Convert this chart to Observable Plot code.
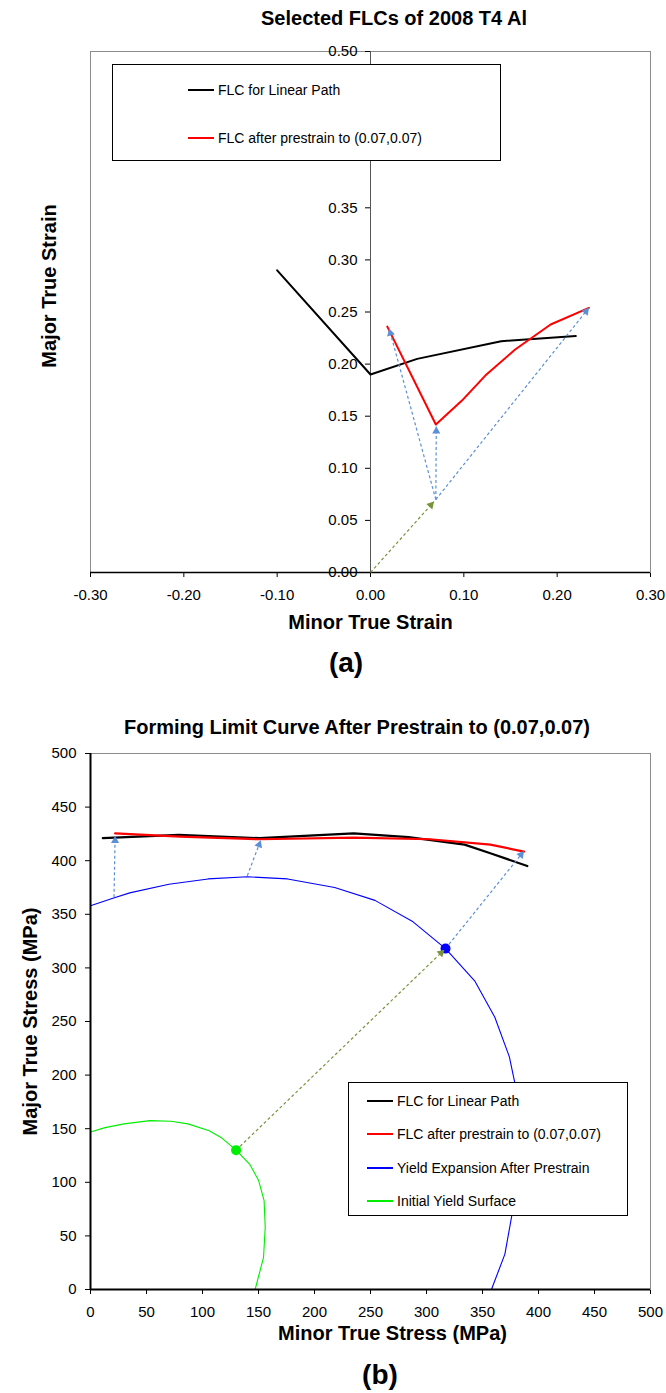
<!DOCTYPE html>
<html><head><meta charset="utf-8">
<script src="https://cdn.jsdelivr.net/npm/d3@7"></script>
<script src="https://cdn.jsdelivr.net/npm/@observablehq/plot@0.6"></script>
<style>
body{margin:0;background:#fff;}
#page{position:relative;width:666px;height:1393px;font-family:"Liberation Sans",Arial,sans-serif;color:#000;overflow:hidden;background:#fff;}
.ctr{position:absolute;transform:translate(-50%,-50%);white-space:nowrap;}
.title{font-weight:bold;font-size:20px;}
.cap{font-weight:bold;font-size:28px;}
.legend{position:absolute;background:#fff;border:1px solid #000;box-sizing:border-box;}
.lg-row{position:absolute;height:18px;display:flex;align-items:center;font-size:14px;white-space:nowrap;}
.lg-line{width:26px;margin-right:4px;}
</style></head><body><div id="page"></div>
<script>
// ---------------- Data: chart (a) strains ----------------
const topXTicks = [-0.3, -0.2, -0.1, 0, 0.1, 0.2, 0.3];
const topYTicks = [0, 0.05, 0.1, 0.15, 0.2, 0.25, 0.3, 0.35, 0.4, 0.45, 0.5];
const linearMinorA = [-0.10, 0.00, 0.05, 0.14, 0.22];
const linearMajorA = [0.290, 0.190, 0.205, 0.222, 0.227];
const prestrainMinorA = [0.018, 0.070, 0.098, 0.123, 0.155, 0.193, 0.234];
const prestrainMajorA = [0.236, 0.142, 0.165, 0.189, 0.214, 0.238, 0.254];
const arrowKindA = ["prestrain", "post", "post", "post"];
const arrowFromMinorA = [0.00, 0.07, 0.07, 0.07];
const arrowFromMajorA = [0.00, 0.07, 0.07, 0.07];
const arrowToMinorA = [0.068, 0.020, 0.0705, 0.234];
const arrowToMajorA = [0.068, 0.234, 0.140, 0.254];

// ---------------- Data: chart (b) stresses ----------------
const bottomXTicks = [0, 50, 100, 150, 200, 250, 300, 350, 400, 450, 500];
const bottomYTicks = [0, 50, 100, 150, 200, 250, 300, 350, 400, 450, 500];
const linearMinorB = [11, 79, 151, 235, 284, 334, 357, 390];
const linearMajorB = [421, 424, 421, 425.5, 422, 415, 407, 395];
const prestrainMinorB = [22, 80, 151, 235, 303, 357, 387];
const prestrainMajorB = [425.5, 422.5, 420, 421.5, 420, 415, 408.5];
const yieldExpMinorB = [0, 20, 35, 70, 105, 140, 176, 218, 254, 288, 317, 343, 361, 374, 379, 381, 380, 376, 370, 358];
const yieldExpMajorB = [358, 365, 370, 378, 383, 385, 383, 375, 363, 343, 318, 288, 254, 217, 192, 150, 105, 68, 33, 0];
const initialMinorB = [0, 13, 30, 53, 72, 87, 106, 117, 130, 142, 150, 155, 156, 154.5, 147];
const initialMajorB = [147, 151, 154.5, 157.5, 157, 154.5, 148, 141.5, 130, 117, 102, 83, 58, 30, 0];
const pointMinorB = [130, 317];
const pointMajorB = [130, 318];
const pointKindB = ["initial", "expanded"];
const arrowKindB = ["prestrain", "post", "post", "post"];
const arrowFromMinorB = [130, 21, 140, 317];
const arrowFromMajorB = [130, 366, 386, 318];
const arrowToMinorB = [316, 22, 152, 387];
const arrowToMajorB = [317, 423, 419, 409];

// ---------------- Styles ----------------
const C = {
  linear: "#000000", prestrain: "#ff0000", yieldExp: "#0000ff", initial: "#00ee00",
  arrowPre: "#77933c", arrowPost: "#5b8fd6", frame: "#8c8c8c"
};
const FONT = '"Liberation Sans", Arial, sans-serif';
const page = document.getElementById("page");

function zipXY(xs, ys) { return xs.map((x, i) => ({x, y: ys[i]})); }
function arrows(kinds, fx, fy, tx, ty) {
  return kinds.map((k, i) => ({kind: k, x1: fx[i], y1: fy[i], x2: tx[i], y2: ty[i]}));
}
// arrow heads: triangles rotated to the on-screen direction, tip at the end point
function heads(arr, kx, ky, back) {
  return arr.map(a => {
    const sdx = (a.x2 - a.x1) * kx, sdy = -(a.y2 - a.y1) * ky;
    const len = Math.hypot(sdx, sdy);
    const ux = sdx / len, uy = sdy / len;
    return {kind: a.kind, x: a.x2 - ux * back / kx, y: a.y2 + uy * back / ky,
            rotate: Math.atan2(sdx, -sdy) * 180 / Math.PI};
  });
}
const arrowColor = k => k === "prestrain" ? C.arrowPre : C.arrowPost;

function place(el, top) {
  el.style.position = "absolute"; el.style.left = "0px"; el.style.top = top + "px";
  page.appendChild(el);
}
function label(text, cls, cx, cy) {
  const d = document.createElement("div");
  d.className = "ctr " + cls; d.textContent = text;
  d.style.left = cx + "px"; d.style.top = cy + "px";
  page.appendChild(d);
}
function legend(box, rows) {
  const d = document.createElement("div");
  d.className = "legend";
  Object.assign(d.style, {left: box.left + "px", top: box.top + "px", width: box.w + "px", height: box.h + "px"});
  rows.forEach(r => {
    const row = document.createElement("div");
    row.className = "lg-row";
    row.style.left = r.x + "px"; row.style.top = (r.y - 9) + "px";
    const ln = document.createElement("div");
    ln.className = "lg-line";
    ln.style.height = r.w + "px"; ln.style.background = r.color;
    const tx = document.createElement("span"); tx.textContent = r.text;
    row.appendChild(ln); row.appendChild(tx); d.appendChild(row);
  });
  page.appendChild(d);
}

// ================= Chart (a) =================
{
  const W = 666, H = 617, mL = 90, mR = 16, mT = 21, mB = 75;
  const kx = (W - mL - mR) / 0.6, ky = (H - mT - mB) / 0.5;
  const arr = arrows(arrowKindA, arrowFromMinorA, arrowFromMajorA, arrowToMinorA, arrowToMajorA);
  const tickLen = 5 / kx;
  const svg = Plot.plot({
    width: W, height: H, marginLeft: mL, marginRight: mR, marginTop: mT, marginBottom: mB,
    style: {fontFamily: FONT, fontSize: "15px", color: "#000", background: "transparent", overflow: "visible"},
    x: {domain: [-0.3, 0.3], ticks: topXTicks, tickFormat: d => d.toFixed(2), tickSize: 5, tickPadding: 12, label: null},
    y: {domain: [0, 0.5], axis: null},
    marks: [
      Plot.frame({stroke: C.frame}),
      Plot.ruleX([0], {stroke: "#555", strokeWidth: 1}),
      Plot.ruleY(topYTicks, {y: d => d, x1: d => 0, x2: d => -tickLen, stroke: "#000"}),
      Plot.text(topYTicks, {x: d => 0, y: d => d, text: d => d.toFixed(2), textAnchor: "end", dx: -13, fontSize: 15, fill: "#000"}),
      Plot.ruleY([0], {stroke: "#000", strokeWidth: 1.5}),
      Plot.line(zipXY(linearMinorA, linearMajorA), {x: "x", y: "y", stroke: C.linear, strokeWidth: 2}),
      Plot.line(zipXY(prestrainMinorA, prestrainMajorA), {x: "x", y: "y", stroke: C.prestrain, strokeWidth: 2}),
      Plot.link(arr, {x1: "x1", y1: "y1", x2: "x2", y2: "y2", stroke: d => arrowColor(d.kind), strokeWidth: 1.2, strokeDasharray: "3,2.5"}),
      Plot.dot(heads(arr, kx, ky, 4.6), {x: "x", y: "y", rotate: "rotate", symbol: "triangle", r: 3, fill: d => arrowColor(d.kind), stroke: "none"}),
      Plot.text(["Minor True Strain"], {text: d => d, frameAnchor: "bottom", textAnchor: "middle", dy: 56, fontWeight: "bold", fontSize: 20, fill: "#000"}),
      Plot.text(["Major True Strain"], {text: d => d, frameAnchor: "left", textAnchor: "middle", dx: -41, dy: -26, rotate: -90, fontWeight: "bold", fontSize: 20, fill: "#000"})
    ]
  });
  place(svg, 30);
  label("Selected FLCs of 2008 T4 Al", "title", 394, 18);
  label("(a)", "cap", 346, 663);
  legend({left: 112, top: 64, w: 389, h: 97}, [
    {x: 75, y: 25, w: 2, color: C.linear, text: "FLC for Linear Path"},
    {x: 75, y: 73, w: 2, color: C.prestrain, text: "FLC after prestrain to (0.07,0.07)"}
  ]);
}

// ================= Chart (b) =================
{
  const W = 666, H = 614, mL = 90, mR = 16, mT = 13, mB = 65;
  const kx = (W - mL - mR) / 500, ky = (H - mT - mB) / 500;
  const arr = arrows(arrowKindB, arrowFromMinorB, arrowFromMajorB, arrowToMinorB, arrowToMajorB);
  const pts = pointKindB.map((k, i) => ({kind: k, x: pointMinorB[i], y: pointMajorB[i]}));
  const svg = Plot.plot({
    width: W, height: H, marginLeft: mL, marginRight: mR, marginTop: mT, marginBottom: mB,
    style: {fontFamily: FONT, fontSize: "15px", color: "#000", background: "transparent", overflow: "visible"},
    x: {domain: [0, 500], ticks: bottomXTicks, tickSize: 5, tickPadding: 12, label: null},
    y: {domain: [0, 500], ticks: bottomYTicks, tickSize: 5, tickPadding: 9, label: null},
    marks: [
      Plot.frame({stroke: C.frame}),
      Plot.line(zipXY(initialMinorB, initialMajorB), {x: "x", y: "y", stroke: C.initial, strokeWidth: 1.1}),
      Plot.line(zipXY(yieldExpMinorB, yieldExpMajorB), {x: "x", y: "y", stroke: C.yieldExp, strokeWidth: 1.1}),
      Plot.line(zipXY(linearMinorB, linearMajorB), {x: "x", y: "y", stroke: C.linear, strokeWidth: 2.2}),
      Plot.line(zipXY(prestrainMinorB, prestrainMajorB), {x: "x", y: "y", stroke: C.prestrain, strokeWidth: 2.2}),
      Plot.link(arr, {x1: "x1", y1: "y1", x2: "x2", y2: "y2", stroke: d => arrowColor(d.kind), strokeWidth: 1.2, strokeDasharray: "3,2.5"}),
      Plot.dot(pts, {x: "x", y: "y", r: 5, fill: d => d.kind === "initial" ? C.initial : C.yieldExp, stroke: "none"}),
      Plot.dot(heads(arr, kx, ky, 4.6), {x: "x", y: "y", rotate: "rotate", symbol: "triangle", r: 3, fill: d => arrowColor(d.kind), stroke: "none"}),
      Plot.ruleX([0], {stroke: "#000", strokeWidth: 2}),
      Plot.ruleY([0], {stroke: "#000", strokeWidth: 2}),
      Plot.text(["Minor True Stress (MPa)"], {text: d => d, frameAnchor: "bottom", textAnchor: "middle", dy: 50, dx: 22, fontWeight: "bold", fontSize: 20, fill: "#000"}),
      Plot.text(["Major True Stress (MPa)"], {text: d => d, frameAnchor: "left", textAnchor: "middle", dx: -60, rotate: -90, fontWeight: "bold", fontSize: 20, fill: "#000"})
    ]
  });
  place(svg, 740);
  label("Forming Limit Curve After Prestrain to (0.07,0.07)", "title", 357, 727);
  label("(b)", "cap", 380, 1375);
  legend({left: 348, top: 1082, w: 280, h: 134}, [
    {x: 18, y: 18, w: 2, color: C.linear, text: "FLC for Linear Path"},
    {x: 18, y: 51, w: 2, color: C.prestrain, text: "FLC after prestrain to (0.07,0.07)"},
    {x: 18, y: 85, w: 1.5, color: C.yieldExp, text: "Yield Expansion After Prestrain"},
    {x: 18, y: 118, w: 1.5, color: C.initial, text: "Initial Yield Surface"}
  ]);
}
</script></body></html>
